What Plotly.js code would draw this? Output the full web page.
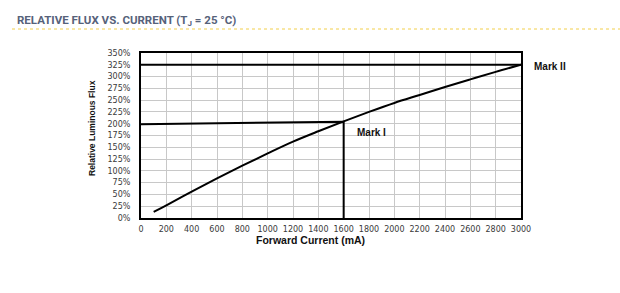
<!DOCTYPE html>
<html>
<head>
<meta charset="utf-8">
<script src="https://cdn.plot.ly/plotly-3.0.1.min.js"></script>
<style>html,body{margin:0;padding:0;background:#fff;}#chart{width:620px;height:293px;}</style>
</head>
<body>
<div id="chart"></div>
<script>
// Data
const currentMA = [100, 200, 400, 600, 800, 1000, 1200, 1400, 1600, 1800, 2000, 2200, 2400, 2600, 2800, 3000];
const relFlux   = [13, 27, 56, 84, 111, 137, 162, 184, 205, 225, 244, 261, 278, 294, 310, 325];

const markIX = [0, 1600, 1600];
const markIY = [199, 204, 0];
const markIIX = [0, 3000];
const markIIY = [325, 325];

const xTicks = [0,200,400,600,800,1000,1200,1400,1600,1800,2000,2200,2400,2600,2800,3000];
const yTicks = [0,25,50,75,100,125,150,175,200,225,250,275,300,325,350];
const yTickText = yTicks.map(v => v + '%');

const lineStyle = {color: '#000', width: 2};
const traces = [
  {x: markIIX, y: markIIY, mode: 'lines', line: lineStyle, hoverinfo: 'skip'},
  {x: markIX, y: markIY, mode: 'lines', line: lineStyle, hoverinfo: 'skip'},
  {x: currentMA, y: relFlux, mode: 'lines', line: {color: '#000', width: 2, shape: 'spline', smoothing: 1}}
];

const W = 380, H = 165; // plot area size in px
const px = v => (v - 141) / W;      // page x -> paper x
const py = v => (218 - v) / H;      // page y -> paper y

const tickFont = {family: 'DejaVu Sans, sans-serif', size: 8, color: '#3a3a3a'};
const boldFont = {family: 'Liberation Sans, Arial, sans-serif', size: 10, color: '#111', weight: 'bold'};
const layout = {
  width: 620, height: 293,
  margin: {l: 141, r: 99, t: 53, b: 75},
  paper_bgcolor: '#fff', plot_bgcolor: '#fff',
  showlegend: false,
  xaxis: {
    range: [0, 3000], tickvals: xTicks, ticks: '', tickfont: tickFont,
    showgrid: true, gridcolor: '#c8c8c8', gridwidth: 1,
    showline: true, linecolor: '#000', linewidth: 2, mirror: true, zeroline: false,
    ticklabelstandoff: 2
  },
  yaxis: {
    range: [0, 350], tickvals: yTicks, ticktext: yTickText, ticks: '', tickfont: tickFont,
    showgrid: true, gridcolor: '#c8c8c8', gridwidth: 1,
    showline: true, linecolor: '#000', linewidth: 2, mirror: true, zeroline: false,
    ticklabelstandoff: 7
  },
  annotations: [
    {xref: 'paper', yref: 'paper', x: px(15), y: py(20), xanchor: 'left', yanchor: 'middle',
     text: 'RELATIVE FLUX VS. CURRENT (T<sub>J</sub> = 25 °C)', showarrow: false,
     font: {family: 'Roboto, sans-serif', size: 11.5, color: '#56627a', weight: 'bold'}},
    {xref: 'paper', yref: 'paper', x: px(310), y: py(240), xanchor: 'center', yanchor: 'middle',
     text: 'Forward Current (mA)', showarrow: false, font: Object.assign({}, boldFont, {size: 10.5})},
    {xref: 'paper', yref: 'paper', x: px(92), y: py(128), xanchor: 'center', yanchor: 'middle', textangle: -90,
     text: 'Relative Luminous Flux', showarrow: false,
     font: {family: 'Liberation Sans Narrow, Liberation Sans, sans-serif', size: 8.5, color: '#111', weight: 'bold'}},
    {x: 1600, y: 204, xref: 'x', yref: 'y', text: 'Mark I', showarrow: false, xanchor: 'left', yanchor: 'middle', xshift: 11, yshift: -11,
     font: boldFont},
    {x: 3000, y: 325, xref: 'x', yref: 'y', text: 'Mark II', showarrow: false, xanchor: 'left', yanchor: 'middle', xshift: 11, yshift: -2,
     font: boldFont}
  ],
  shapes: [
    {type: 'line', xref: 'paper', yref: 'paper', x0: px(12), x1: px(620), y0: py(29), y1: py(29),
     line: {color: '#f2cf4a', width: 1, dash: 'dot'}}
  ]
};

Plotly.newPlot('chart', traces, layout, {displayModeBar: false, staticPlot: true});
</script>
</body>
</html>
